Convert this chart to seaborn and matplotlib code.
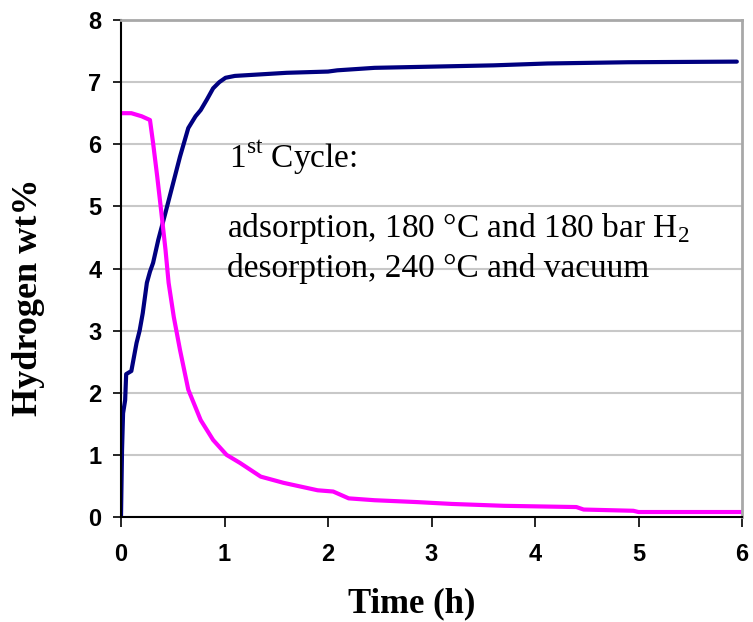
import matplotlib
matplotlib.use("Agg")
import matplotlib.pyplot as plt
import seaborn as sns
import pandas as pd

# ---- data ----
ads_time = [0, 0.01, 0.02, 0.04, 0.05, 0.07, 0.10, 0.12, 0.15, 0.18, 0.21, 0.25, 0.28,
            0.31, 0.36, 0.43, 0.50, 0.57, 0.65, 0.72, 0.77, 0.83, 0.89, 0.95, 1.01,
            1.10, 1.30, 1.60, 2.00, 2.09, 2.45, 3.60, 4.12, 4.90, 5.95]
ads_wt = [0, 1.08, 1.67, 1.88, 2.30, 2.32, 2.35, 2.53, 2.80, 3.00, 3.28, 3.77, 3.95,
          4.09, 4.46, 4.90, 5.35, 5.80, 6.26, 6.45, 6.55, 6.72, 6.90, 7.00, 7.07,
          7.10, 7.12, 7.15, 7.17, 7.19, 7.23, 7.27, 7.30, 7.32, 7.33]

des_time = [0, 0.10, 0.20, 0.28, 0.31, 0.35, 0.39, 0.43, 0.46, 0.51, 0.57, 0.65, 0.77,
            0.89, 1.02, 1.15, 1.35, 1.57, 1.90, 2.05, 2.20, 2.45, 2.86, 3.20, 3.70,
            4.40, 4.47, 4.95, 5.00, 6.00]
des_wt = [6.50, 6.50, 6.45, 6.39, 6.02, 5.48, 4.90, 4.30, 3.77, 3.22, 2.69, 2.05, 1.56,
          1.24, 1.00, 0.87, 0.65, 0.55, 0.43, 0.41, 0.30, 0.27, 0.24, 0.21, 0.18,
          0.16, 0.12, 0.10, 0.08, 0.08]

x_ticks = [0, 1, 2, 3, 4, 5, 6]
y_ticks = [0, 1, 2, 3, 4, 5, 6, 7, 8]

df = pd.concat([
    pd.DataFrame({"Time": ads_time, "wt": ads_wt, "run": "adsorption"}),
    pd.DataFrame({"Time": des_time, "wt": des_wt, "run": "desorption"}),
], ignore_index=True)

sns.set_style("white")
plt.rcParams["mathtext.fontset"] = "custom"
plt.rcParams["mathtext.rm"] = "Liberation Serif"
plt.rcParams["text.color"] = "black"
plt.rcParams["axes.labelcolor"] = "black"
plt.rcParams["xtick.color"] = "black"
plt.rcParams["ytick.color"] = "black"

fig = plt.figure(figsize=(7.53, 6.22), dpi=100)
ax = fig.add_axes([121 / 753, 1 - 517 / 622, (742 - 121) / 753, (517 - 20) / 622])

sns.lineplot(data=df, x="Time", y="wt", hue="run", estimator=None, sort=False,
             palette={"adsorption": "#000080", "desorption": "#FF00FF"},
             linewidth=3.0, legend=False, ax=ax)

ax.set_xlim(0, 6)
ax.set_ylim(0, 8)
ax.set_xticks(x_ticks)
ax.set_yticks(y_ticks)
ax.set_xticklabels([str(v) for v in x_ticks], fontfamily="Liberation Sans",
                   fontweight="bold", fontsize=17, color="black")
ax.set_yticklabels([str(v) for v in y_ticks], fontfamily="Liberation Sans",
                   fontweight="bold", fontsize=17, color="black")
ax.tick_params(axis="x", direction="out", length=7, width=1.2, color="black", pad=12,
               bottom=True)
ax.tick_params(axis="y", direction="out", length=6, width=1.2, color="black", pad=8,
               left=True)

ax.yaxis.grid(True, color="#c8c8c8", linewidth=1.5)
ax.xaxis.grid(False)
ax.set_axisbelow(True)

for s in ["left", "bottom"]:
    ax.spines[s].set_color("black")
    ax.spines[s].set_linewidth(1.5)
for s in ["top", "right"]:
    ax.spines[s].set_color("#a8a8a8")
    ax.spines[s].set_linewidth(2)

ax.set_xlabel("Time (h)", fontfamily="Liberation Serif", fontweight="bold",
              fontsize=25, color="black")
ax.set_ylabel("Hydrogen wt%", fontfamily="Liberation Serif", fontweight="bold",
              fontsize=26, color="black")
ax.xaxis.set_label_coords((412 - 121) / 621, -(604 - 517) / 497)
ax.yaxis.set_label_coords(-(121 - 29) / 621, (517 - 297) / 497)
ax.xaxis.label.set_va("center")
ax.yaxis.label.set_va("center")

txt_kw = dict(fontfamily="Liberation Serif", fontsize=24, va="baseline", ha="left",
              color="black")
ax.text(1.04, 5.62, r"1$^{\mathrm{st}}$ Cycle:", **txt_kw)
ax.text(1.02, 4.51, r"adsorption, 180 °C and 180 bar H$_{\mathrm{2}}$", **txt_kw)
ax.text(1.02, 3.86, "desorption, 240 °C and vacuum", **txt_kw)

fig.savefig("out.png", dpi=100)
